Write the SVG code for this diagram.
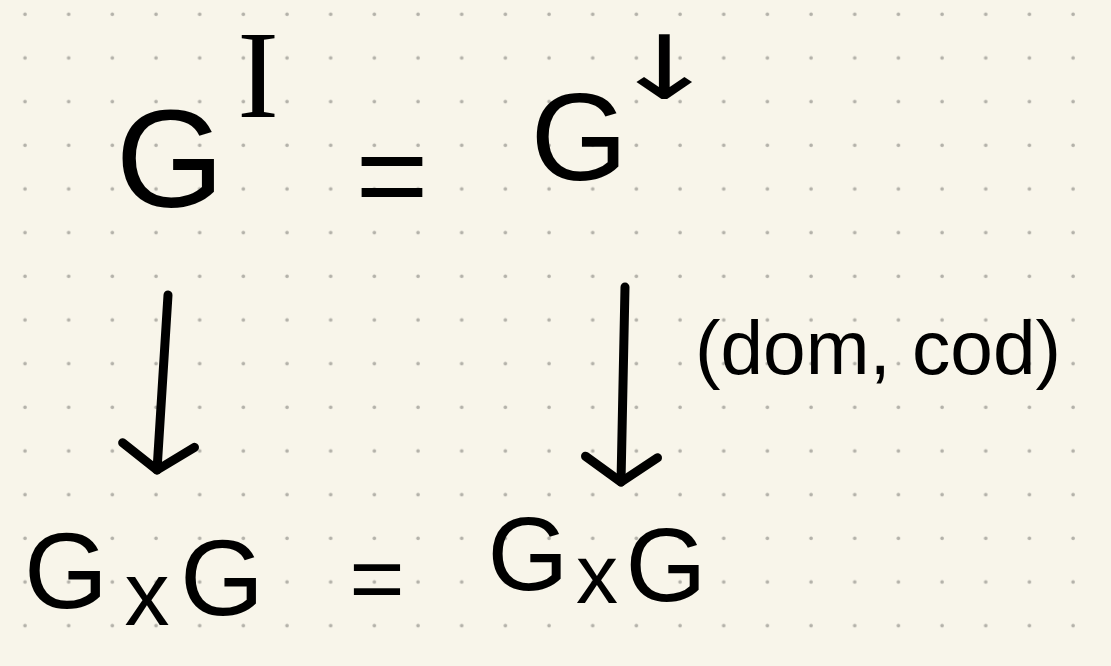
<svg xmlns="http://www.w3.org/2000/svg" width="1111" height="666" viewBox="0 0 1111 666">
  <style>
    .hw { font-family: "Liberation Sans", Arial, sans-serif; fill: #000; }
    .sf { font-family: "Liberation Serif", "Times New Roman", serif; fill: #000; }
    .sym { font-family: "DejaVu Sans", sans-serif; fill: #000; }
    .edge { fill: none; stroke: #000; stroke-width: 9; stroke-linecap: round; stroke-linejoin: round; }
  </style>
  <defs>
    <pattern id="dots" x="0" y="0" width="43.67" height="43.67" patternUnits="userSpaceOnUse">
      <circle cx="25" cy="14.3" r="1.8" fill="#b3b1a9"/>
    </pattern>
    <marker id="arr" markerUnits="userSpaceOnUse" viewBox="-40 -45 50 90" refX="0" refY="0" markerWidth="50" markerHeight="90" orient="auto" overflow="visible">
      <path d="M -25 -36 L 0 0 L -25 36" fill="none" stroke="#000" stroke-width="9" stroke-linecap="round" stroke-linejoin="round"/>
    </marker>
  </defs>
  <rect width="1111" height="666" fill="#f8f5ea"/>
  <rect width="1111" height="666" fill="url(#dots)"/>

  <g id="node-GI">
    <text class="hw" x="170" y="207" font-size="140" text-anchor="middle">G</text>
    <text class="sf" x="258" y="117" font-size="125" text-anchor="middle">I</text>
  </g>

  <g id="node-Gdown">
    <text class="hw" x="579" y="180" font-size="125" text-anchor="middle">G</text>
    <text class="sym" transform="translate(664,99) scale(1,0.68)" x="0" y="0" font-size="130" text-anchor="middle">↓</text>
  </g>

  <g id="node-GxG-left">
    <text class="hw" font-size="108" text-anchor="middle"><tspan x="66" y="608">G</tspan><tspan x="147" y="625" font-size="90">x</tspan><tspan x="222" y="615">G</tspan></text>
  </g>

  <g id="node-GxG-right">
    <text class="hw" font-size="104" text-anchor="middle"><tspan x="528" y="590">G</tspan><tspan x="597" y="603" font-size="84">x</tspan><tspan x="666" y="601">G</tspan></text>
  </g>

  <g id="connectors">
    <path class="edge" d="M168,295 L157,470" marker-end="url(#arr)"/>
    <path class="edge" d="M625,287 L621,482" marker-end="url(#arr)"/>
    <text class="hw" x="695" y="374" font-size="76" textLength="366" lengthAdjust="spacingAndGlyphs">(dom, cod)</text>
    <text class="hw" x="392" y="218" font-size="125" text-anchor="middle">=</text>
    <text class="hw" x="377" y="611" font-size="95" text-anchor="middle">=</text>
  </g>
</svg>
